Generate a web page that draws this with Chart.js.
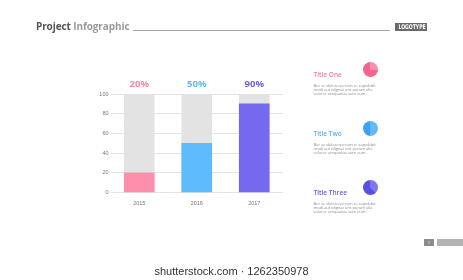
<!DOCTYPE html>
<html>
<head>
<meta charset="utf-8">
<script src="https://cdn.jsdelivr.net/npm/chart.js@4"></script>
<style>
  html, body { margin: 0; padding: 0; background: #fff; }
  body { width: 463px; height: 280px; position: relative; overflow: hidden; font-family: "Open Sans", sans-serif; }
  #chart { position: absolute; left: 0; top: 0; }
  .abs { position: absolute; white-space: nowrap; }
  .head { left: 36px; top: 19px; font-size: 10px; font-weight: 700; letter-spacing: -0.1px; }
  .head .a { color: #555; }
  .head .b { color: #9a9a9a; }
  .rule { left: 133px; top: 30px; width: 257px; height: 1.4px; background: #a5a5a5; }
  .logo { left: 395px; top: 22.5px; width: 32px; height: 8.5px; background: #6a6a6a; overflow: hidden; }
  .logo span { display: block; color: #fff; font: bold 6.5px "Liberation Sans Narrow", "DejaVu Sans Condensed", sans-serif;
               line-height: 8.5px; text-align: center; transform: scaleX(0.78); transform-origin: 50% 50%; }
  .title { font-size: 6.5px; font-weight: 600; }
  .body { font-size: 4px; line-height: 4.2px; color: #8a8a8a; }
  .dot { width: 15px; height: 15px; border-radius: 50%; }
  .pg { left: 424px; top: 239px; width: 10px; height: 7px; background: #8c8c8c; color: #fff; font-size: 4px; line-height: 7px; text-align: center; }
  .pgbar { left: 437px; top: 239px; width: 26px; height: 7px; background: #b3b3b3; }
  .wm { left: 0; width: 463px; top: 265px; text-align: center; font: 11px "Liberation Sans", sans-serif; color: #333; }
</style>
</head>
<body>
<canvas id="chart" width="463" height="280"></canvas>
<div id="overlay"></div>
<script>
// chart data
const years = ['2015', '2016', '2017'];
const shares = [20, 50, 90];
const fullScale = [100, 100, 100];
const barColors = ['#fc8fab', '#5dbcfb', '#7569ef'];
const labelColors = ['#f585a5', '#5fb7f6', '#6c61e6'];

// side panel
const titles = ['Title One', 'Title Two', 'Title Three'];
const titleColors = ['#f77fa3', '#5ab2f3', '#6a5fe0'];
const bodyLines = ['Bor se dolorerperum re sapidebit', 'modi aut idignat unt porum alia', 'volorer umquatus sum eum.'];
const dotColors = [['#f6638f', '#f98fb0'], ['#3f9ff0', '#62b9f8'], ['#5a4fe0', '#7f76ee']];

const overlay = document.getElementById('overlay');
let html = '';
html += '<div class="abs head"><span class="a">Project</span> <span class="b">Infographic</span></div>';
html += '<div class="abs rule"></div>';
html += '<div class="abs logo"><span>LOGOTYPE</span></div>';
titles.forEach((t, i) => {
    const top = 70 + i * 59.2;
    html += `<div class="abs title" style="left:313.5px;top:${top - 0.5}px;color:${titleColors[i]}">${t}</div>`;
    html += `<div class="abs body" style="left:313.5px;top:${top + 13.5}px">${bodyLines.join('<br>')}</div>`;
    const c = dotColors[i];
    const grad = i === 1
        ? `linear-gradient(90deg, ${c[0]} 50%, ${c[1]} 50%)`
        : `conic-gradient(${c[1]} 0deg ${i === 0 ? 95 : 140}deg, ${c[0]} 0deg)`;
    html += `<div class="abs dot" style="left:363px;top:${top - 8.5}px;background:${grad}"></div>`;
});
html += '<div class="abs pg">1</div><div class="abs pgbar"></div>';
html += '<div class="abs wm">shutterstock.com · 1262350978</div>';
overlay.innerHTML = html;

// percent labels above the columns
const percentLabels = {
    id: 'percentLabels',
    afterDatasetsDraw(chart) {
        const ctx = chart.ctx;
        const meta = chart.getDatasetMeta(0);
        const top = chart.scales.y.getPixelForValue(100);
        ctx.save();
        ctx.font = 'bold 9.5px "Open Sans", sans-serif';
        ctx.textAlign = 'center';
        ctx.textBaseline = 'middle';
        meta.data.forEach((bar, i) => {
            ctx.fillStyle = labelColors[i];
            ctx.fillText(shares[i] + '%', bar.x, top - 10);
        });
        ctx.restore();
    }
};

new Chart(document.getElementById('chart').getContext('2d'), {
    type: 'bar',
    data: {
        labels: years,
        datasets: [{
            data: shares,
            backgroundColor: barColors,
            barThickness: 30,
            grouped: false,
            order: 0
        }, {
            data: fullScale,
            backgroundColor: '#e3e3e3',
            barThickness: 30,
            grouped: false,
            order: 1
        }]
    },
    options: {
        responsive: false,
        animation: false,
        events: [],
        layout: { padding: { top: 94, left: 0, right: 180, bottom: 0 } },
        plugins: { legend: { display: false }, tooltip: { enabled: false } },
        scales: {
            x: {
                grid: { display: false },
                border: { display: false },
                ticks: { color: '#777', font: { size: 5.5 }, padding: 0 },
                afterFit(scale) { scale.height = 87.5; }
            },
            y: {
                min: 0,
                max: 100,
                ticks: { stepSize: 20, color: '#777', font: { size: 5.5 }, padding: 2 },
                grid: { color: '#dcdcdc', lineWidth: 0.8, drawTicks: false },
                border: { display: false },
                afterFit(scale) { scale.width = 110.5; }
            }
        }
    },
    plugins: [percentLabels]
});
</script>
</body>
</html>
